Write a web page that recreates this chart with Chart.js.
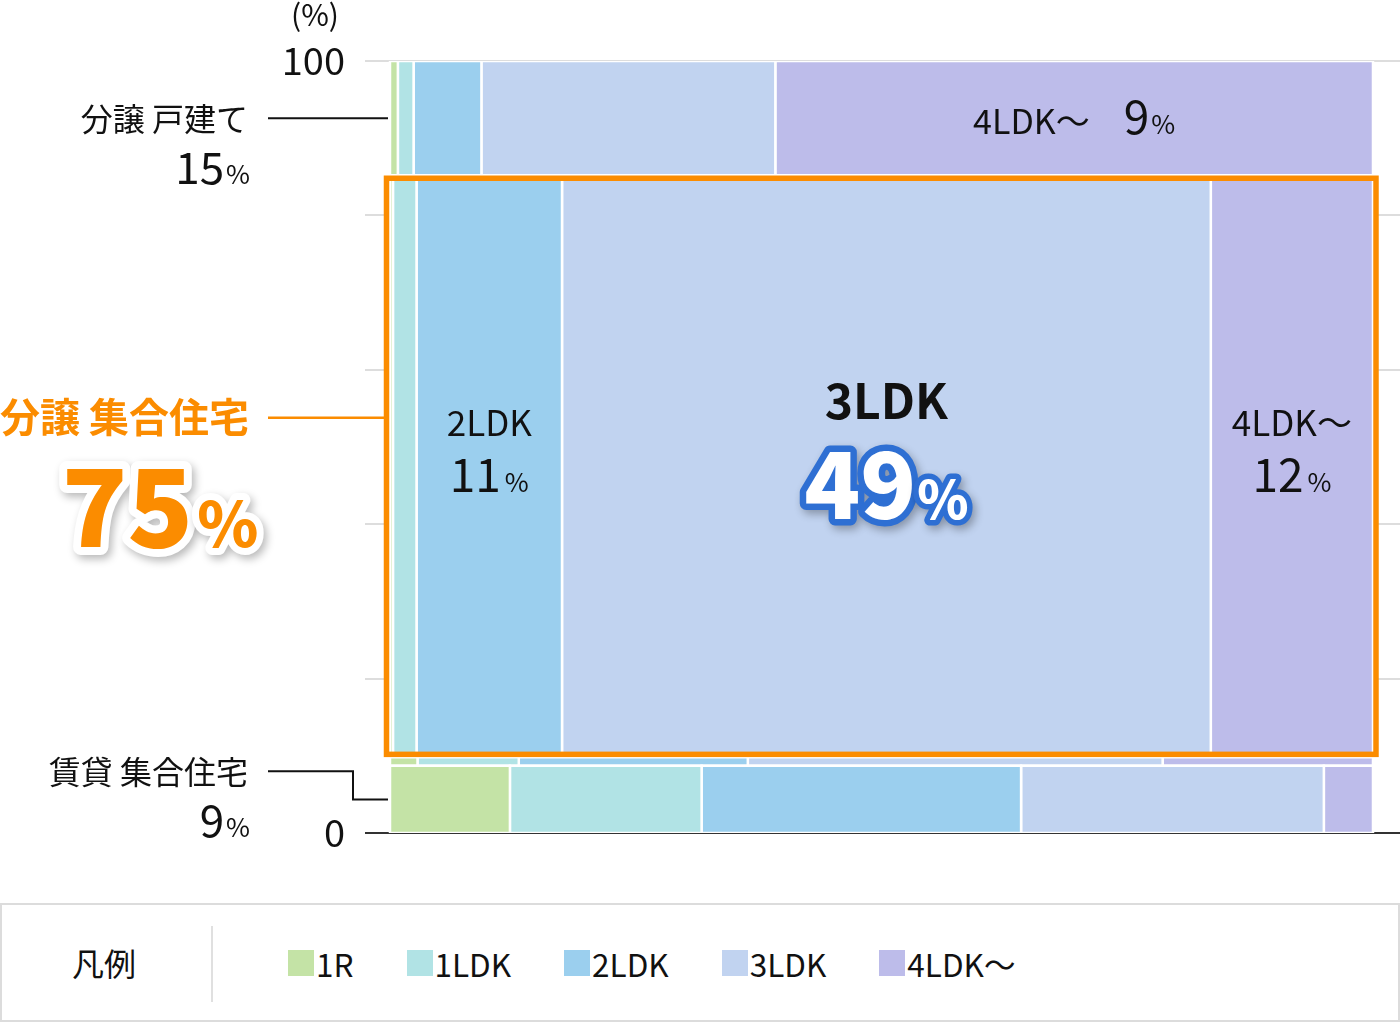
<!DOCTYPE html>
<html><head><meta charset="utf-8">
<script src="https://cdn.jsdelivr.net/npm/chart.js@4.4.1/dist/chart.umd.min.js"></script>
<style>
html,body{margin:0;padding:0;background:#fff;width:1400px;height:1024px;overflow:hidden;font-family:'Noto Sans CJK JP','Noto Sans',sans-serif;color:#111;}
#wrap{position:absolute;left:0;top:0;width:1400px;height:900px;}
#legend{position:absolute;left:0;top:903px;width:1396px;height:115px;border:2px solid #dcdcdc;}
#lgTitle{position:absolute;left:70px;top:0;height:115px;line-height:115px;font-size:32px;}
#lgSep{position:absolute;left:209px;top:21px;width:2px;height:76px;background:#e0e0e0;}
#lgItems{position:absolute;left:286px;top:0;height:115px;display:flex;align-items:center;gap:53px;}
.it{display:flex;align-items:center;font-size:31.5px;line-height:40px;}
.sw{width:26px;height:26px;margin-right:2px;}
</style></head>
<body>
<div id="wrap"><canvas id="c" width="1400" height="900"></canvas></div>
<div id="legend"><div id="lgTitle">凡例</div><div id="lgSep"></div><div id="lgItems"></div></div>
<script>
// ---- data ----
const rooms = ['1R', '1LDK', '2LDK', '3LDK', '4LDK〜'];
const roomColors = ['#c4e3a6', '#b1e3e5', '#9bcfee', '#c1d3f0', '#bdbcea'];
const groups = ['賃貸 集合住宅', '賃貸 戸建て', '分譲 集合住宅', '分譲 戸建て'];
const groupShares = [8.7, 1.1, 75.4, 14.8];          // % of all (row heights)
const groupLabels = ['9', null, '75', '15'];          // shown values
const rentApartment = [12.2, 19.5, 32.5, 30.8, 5.0];  // % within row
const rentHouse     = [2.8, 10.3, 23.3, 42.2, 21.4];
const ownApartment  = [0.3, 2.4, 14.8, 66.0, 16.5];
const ownHouse      = [0.8, 1.6, 6.9, 29.9, 60.8];
const rowShares = [rentApartment, rentHouse, ownApartment, ownHouse];
const ownApartmentLabels = [null, null, '11', '49', '12'];
const ownHouseLabels = [null, null, null, null, '9'];
const yTicks = [0, 100];

// ---- legend ----
const lg = document.getElementById('lgItems');
rooms.forEach((r, i) => {
  const d = document.createElement('div'); d.className = 'it';
  d.innerHTML = '<span class="sw" style="background:' + roomColors[i] + '"></span><span>' + r + '</span>';
  lg.appendChild(d);
});

// ---- build rectangles ----
const datasets = [];
const rects = [];
let yb = 0;
groups.forEach((g, gi) => {
  const h = groupShares[gi];
  let xb = 0;
  rowShares[gi].forEach((w, ri) => {
    rects.push({g: gi, r: ri, x0: xb, x1: xb + w, y0: yb, y1: yb + h});
    datasets.push({
      label: g + ' ' + rooms[ri],
      data: [{x: xb, y: yb}, {x: xb + w, y: yb}, {x: xb + w, y: yb + h}, {x: xb, y: yb + h}, {x: xb, y: yb}],
      showLine: true, fill: 'shape', backgroundColor: roomColors[ri],
      borderColor: '#ffffff', borderWidth: 2.5, pointRadius: 0, pointHoverRadius: 0, tension: 0
    });
    xb += w;
  });
  yb += h;
});

const FONT = "'Noto Sans CJK JP','Noto Sans',sans-serif";
function runs(ctx, parts, x, y, align) {
  let total = 0;
  parts.forEach(p => { ctx.font = p.f; p.w = ctx.measureText(p.t).width; total += p.w + (p.gap || 0); });
  let sx = align === 'right' ? x - total : align === 'center' ? x - total / 2 : x;
  parts.forEach(p => {
    ctx.font = p.f;
    ctx.textAlign = 'left';
    ctx.textBaseline = 'alphabetic';
    if (p.stroke) {
      ctx.save();
      ctx.lineJoin = 'round';
      ctx.strokeStyle = p.stroke; ctx.lineWidth = p.sw;
      if (p.shadow) { ctx.shadowColor = p.shadow; ctx.shadowBlur = 8; ctx.shadowOffsetX = 3; ctx.shadowOffsetY = 4; }
      ctx.strokeText(p.t, sx, y);
      ctx.restore();
    }
    ctx.fillStyle = p.c || '#111';
    ctx.fillText(p.t, sx, y);
    sx += p.w + (p.gap || 0);
  });
}

const overlay = {
  id: 'overlay',
  afterDraw(chart) {
    const ctx = chart.ctx, xs = chart.scales.x, ys = chart.scales.y, ca = chart.chartArea;
    const X0 = xs.getPixelForValue(0), X1 = xs.getPixelForValue(100);
    const bounds = []; let acc = 0;
    groupShares.forEach(h => { bounds.push([acc, acc + h]); acc += h; });
    ctx.save();
    // (%) unit
    ctx.font = '30px ' + FONT; ctx.fillStyle = '#111'; ctx.textAlign = 'center'; ctx.textBaseline = 'alphabetic';
    ctx.fillText('(%)', ca.left - 50, ys.getPixelForValue(100) - 35);

    // orange frame around 分譲 集合住宅
    const ob = bounds[2];
    ctx.strokeStyle = '#fb8c00'; ctx.lineWidth = 5.5;
    const fy0 = ys.getPixelForValue(ob[1]) + 3, fy1 = ys.getPixelForValue(ob[0]) - 3;
    ctx.strokeRect(X0 - 3.5, fy0, (X1 + 3) - (X0 - 3.5), fy1 - fy0);

    const labRight = ca.left - 117, lineStart = ca.left - 97;
    // 分譲 戸建て
    let ly = ys.getPixelForValue((bounds[3][0] + bounds[3][1]) / 2);
    ctx.strokeStyle = '#111'; ctx.lineWidth = 2;
    ctx.beginPath(); ctx.moveTo(lineStart, ly); ctx.lineTo(X0 - 2, ly); ctx.stroke();
    runs(ctx, [{t: groups[3], f: '32px ' + FONT}], labRight, ly + 13, 'right');
    runs(ctx, [{t: groupLabels[3], f: '44px ' + FONT, gap: 2}, {t: '%', f: '26px ' + FONT}], labRight + 2, ly + 66, 'right');

    // 分譲 集合住宅
    ly = ys.getPixelForValue(53.8);
    ctx.strokeStyle = '#fb8c00'; ctx.lineWidth = 2.5;
    ctx.beginPath(); ctx.moveTo(lineStart, ly); ctx.lineTo(X0 - 5, ly); ctx.stroke();
    runs(ctx, [{t: groups[2], f: 'bold 40px ' + FONT, c: '#fb8c00'}], labRight + 1, ly + 14, 'right');
    runs(ctx, [
      {t: groupLabels[2], f: '900 108px ' + FONT, c: '#fb8c00', stroke: '#ffffff', sw: 16, shadow: 'rgba(0,0,0,0.28)', gap: 4},
      {t: '%', f: '900 62px ' + FONT, c: '#fb8c00', stroke: '#ffffff', sw: 14, shadow: 'rgba(0,0,0,0.28)'}
    ], labRight - 88, ly + 129, 'center');

    // 賃貸 集合住宅
    ly = ys.getPixelForValue(8.0);
    const ey = ys.getPixelForValue((bounds[0][0] + bounds[0][1]) / 2);
    ctx.strokeStyle = '#111'; ctx.lineWidth = 2;
    ctx.beginPath(); ctx.moveTo(lineStart, ly); ctx.lineTo(ca.left - 12, ly); ctx.lineTo(ca.left - 12, ey); ctx.lineTo(X0 - 2, ey); ctx.stroke();
    runs(ctx, [{t: groups[0], f: '32px ' + FONT}], labRight, ly + 13, 'right');
    runs(ctx, [{t: groupLabels[0], f: '44px ' + FONT, gap: 2}, {t: '%', f: '26px ' + FONT}], labRight + 2, ly + 66, 'right');

    // labels inside cells
    rects.forEach(rc => {
      const cx = (xs.getPixelForValue(rc.x0) + xs.getPixelForValue(rc.x1)) / 2;
      const cy = (ys.getPixelForValue(rc.y0) + ys.getPixelForValue(rc.y1)) / 2;
      if (rc.g === 3 && ownHouseLabels[rc.r]) {
        runs(ctx, [{t: rooms[rc.r], f: '34px ' + FONT, gap: 34}, {t: ownHouseLabels[rc.r], f: '46px ' + FONT, gap: 2}, {t: '%', f: '26px ' + FONT}], cx, cy + 16, 'center');
      }
      if (rc.g === 2 && ownApartmentLabels[rc.r]) {
        if (rc.r === 3) {
          runs(ctx, [{t: rooms[rc.r], f: 'bold 48px ' + FONT}], cx, cy - 47, 'center');
          runs(ctx, [
            {t: ownApartmentLabels[rc.r], f: '900 92px ' + FONT, c: '#ffffff', stroke: '#2e6fd3', sw: 13, shadow: 'rgba(0,0,0,0.3)', gap: 1},
            {t: '%', f: '900 52px ' + FONT, c: '#ffffff', stroke: '#2e6fd3', sw: 11, shadow: 'rgba(0,0,0,0.3)'}
          ], cx, cy + 53, 'center');
        } else {
          runs(ctx, [{t: rooms[rc.r], f: '35px ' + FONT}], cx, cy - 30, 'center');
          runs(ctx, [{t: ownApartmentLabels[rc.r], f: '46px ' + FONT, gap: 4}, {t: '%', f: '26px ' + FONT}], cx, cy + 26, 'center');
        }
      }
    });
    ctx.restore();
  }
};

new Chart(document.getElementById('c'), {
  type: 'scatter',
  data: {datasets},
  options: {
    responsive: false, animation: false, events: [],
    layout: {padding: {left: 0, right: 0, top: 61, bottom: 67}},
    plugins: {legend: {display: false}, tooltip: {enabled: false}},
    scales: {
      x: {type: 'linear', min: -2.543, max: 102.747, display: false},
      y: {
        type: 'linear', min: 0, max: 100,
        afterFit(s) { s.width = 365; },
        border: {display: false},
        grid: {drawTicks: false, lineWidth: 2, color: c => (c.tick && c.tick.value === 0 ? '#333333' : '#dddddd')},
        ticks: {stepSize: 20, padding: 20, color: '#111', font: {family: FONT, size: 38},
          callback: v => (yTicks.includes(v) ? String(v) : '')}
      }
    }
  },
  plugins: [overlay]
});
</script>
</body></html>
